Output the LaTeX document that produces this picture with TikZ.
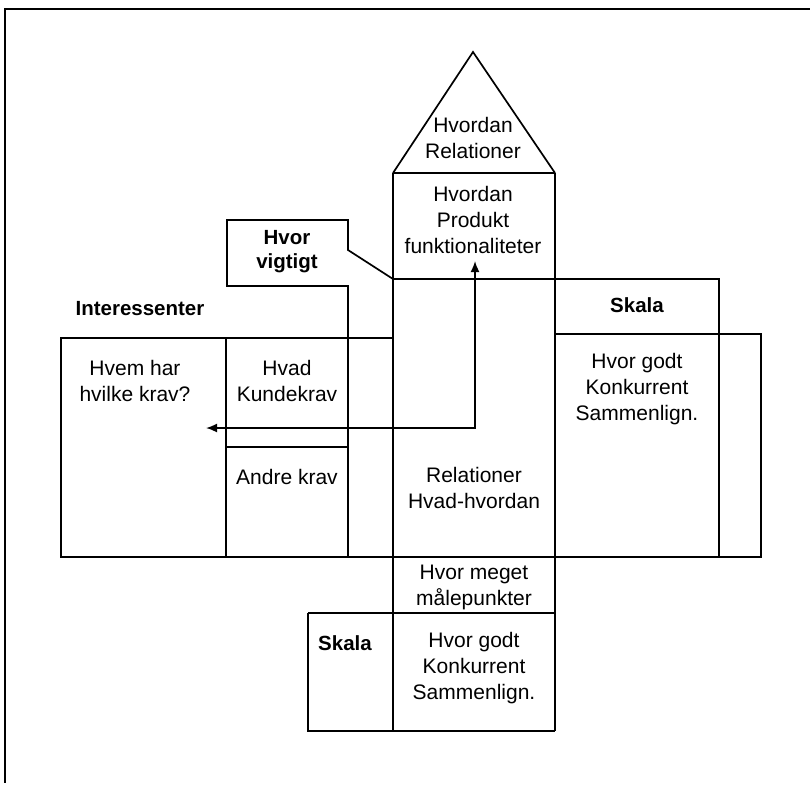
\documentclass[tikz,border=0pt]{standalone}
\usepackage{fontspec}
\setmainfont{Liberation Sans}
\usetikzlibrary{arrows.meta}
\tikzset{
  ln/.style={line width=1.7pt, line join=miter},
  txt/.style={align=center, inner sep=0pt, font=\fontsize{21}{26}\selectfont},
  btxt/.style={txt, font=\fontsize{20.5}{24}\selectfont\bfseries},
  arr/.style={line width=1.7pt, {Latex[length=11pt,width=9pt]}-{Latex[length=11pt,width=9pt]}}
}
\begin{document}
\begin{tikzpicture}[x=1pt,y=-1pt]
\useasboundingbox (0,0) rectangle (810,785);
% frame
\draw[line width=1.9pt] (810,9) -- (5,9) -- (5,783);
% roof and column
\draw[ln] (393,173) -- (473,52) -- (555,173);
\draw[ln] (393,173) -- (555,173);
\draw[ln] (393,173) -- (393,731);
\draw[ln] (555,173) -- (555,731);
% Hvor vigtigt tab
\draw[ln] (393,279) -- (348,250) -- (348,220) -- (227,220) -- (227,286) -- (348,286) -- (348,557);
\draw[ln] (393,279) -- (719,279) -- (719,557);
% left block
\draw[ln] (393,338) -- (61,338) -- (61,557) -- (761,557) -- (761,334) -- (555,334);
\draw[ln] (226,338) -- (226,557);
\draw[ln] (226,447) -- (348,447);
% bottom
\draw[ln] (308,613) -- (555,613);
\draw[ln] (308,613) -- (308,731) -- (555,731);
% texts
\node[txt] (roof) at (473,138) {Hvordan\\Relationer};
\node[txt] (how) at (473,220) {Hvordan\\Produkt\\funktionaliteter};
\node[btxt] (vig) at (287,252) {Hvor\\vigtigt};
\node[btxt] (int) at (140,309) {Interessenter};
\node[btxt] (sk1) at (637,305) {Skala};
\node[txt] (hvem) at (135,381) {Hvem har\\hvilke krav?};
\node[txt] (hvad) at (287,381) {Hvad\\Kundekrav};
\node[txt] (andre) at (287,477) {Andre krav};
\node[txt] (rel) at (474,488) {Relationer\\Hvad-hvordan};
\node[txt] (god1) at (637,389) {Hvor godt\\Konkurrent\\Sammenlign.};
\node[txt] (meget) at (474,587) {Hvor meget\\målepunkter};
\node[btxt] (sk2) at (345,643) {Skala};
\node[txt] (god2) at (474,668) {Hvor godt\\Konkurrent\\Sammenlign.};
% arrow
\coordinate (aL) at (206,428);
\coordinate (aT) at (475,261);
\draw[arr] (aL) -| (aT);
\end{tikzpicture}
\end{document}
